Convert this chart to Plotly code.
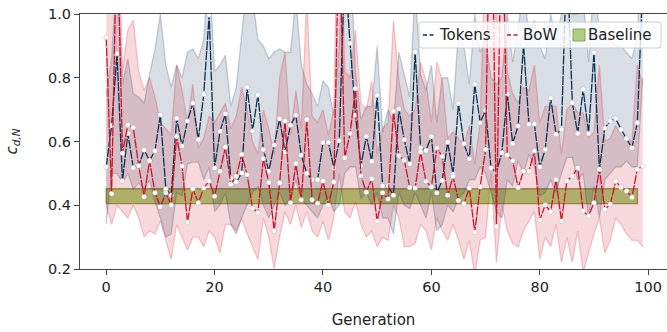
import plotly.graph_objects as go

generations = list(range(100))

tokens_mean = [
    0.52, 0.65, 0.876, 0.476, 0.625, 0.518, 0.524, 0.573, 0.54, 0.571,
    0.684, 0.451, 0.431, 0.673, 0.586, 0.664, 0.720, 0.606, 0.748, 0.997,
    0.517, 0.632, 0.687, 0.484, 0.473, 0.501, 0.770, 0.633, 0.746, 0.575,
    0.507, 0.589, 0.671, 0.567, 0.651, 0.682, 0.557, 0.50, 0.48, 0.48,
    0.597, 0.597, 0.518, 0.602, 1.15, 0.908, 0.682, 0.524, 0.616, 0.538,
    0.745, 0.461, 0.461, 0.431, 0.702, 0.606, 0.53, 0.881, 0.58, 0.572,
    0.616, 0.439, 0.478, 0.598, 0.497, 0.719, 0.593, 0.546, 0.780, 0.659,
    0.698, 0.517, 0.504, 0.565, 0.749, 0.594, 0.649, 0.903, 0.654, 0.655,
    0.520, 0.575, 0.737, 0.623, 0.638, 1.2, 0.721, 0.625, 0.764, 0.625,
    0.879, 0.513, 0.642, 0.664, 0.672, 0.638, 0.609, 0.580, 0.659, 1.1,
]
tokens_upper = [
    0.745, 0.86, 1.15, 0.78, 0.86, 0.75, 0.74, 0.72, 0.81, 0.89,
    1.0, 0.84, 0.77, 0.84, 0.80, 0.88, 0.89, 0.86, 0.92, 1.15,
    0.82, 0.84, 0.87, 0.71, 0.77, 0.92, 1.1, 1.05, 0.92, 0.90,
    0.86, 0.88, 0.89, 0.88, 0.88, 1.05, 0.84, 0.78, 0.75, 0.71,
    0.79, 0.77, 0.68, 0.90, 1.4, 1.2, 0.82, 0.67, 0.71, 0.71,
    0.90, 0.63, 0.70, 0.66, 0.88, 0.81, 0.74, 1.08, 0.81, 0.76,
    0.84, 0.66, 0.80, 0.80, 0.70, 0.95, 0.90, 0.78, 1.0, 0.88,
    0.92, 0.80, 0.78, 0.80, 1.0, 0.85, 0.95, 1.1, 0.93, 0.98,
    0.90, 0.86, 1.0, 0.92, 1.0, 1.3, 1.0, 1.0, 1.05, 0.85,
    1.1, 0.95, 0.92, 0.92, 0.90, 0.90, 0.88, 0.86, 0.93, 1.3,
]
tokens_lower = [
    0.342, 0.50, 0.50, 0.47, 0.50, 0.45, 0.47, 0.45, 0.48, 0.41,
    0.36, 0.30, 0.31, 0.44, 0.43, 0.53, 0.535, 0.535, 0.48, 0.52,
    0.38, 0.40, 0.44, 0.34, 0.31, 0.36, 0.40, 0.44, 0.46, 0.40,
    0.36, 0.40, 0.44, 0.40, 0.42, 0.48, 0.42, 0.40, 0.38, 0.36,
    0.40, 0.43, 0.38, 0.40, 0.50, 0.52, 0.52, 0.42, 0.44, 0.40,
    0.44, 0.36, 0.36, 0.31, 0.44, 0.40, 0.39, 0.44, 0.40, 0.36,
    0.44, 0.32, 0.34, 0.40, 0.38, 0.42, 0.44, 0.48, 0.48, 0.52,
    0.50, 0.44, 0.38, 0.36, 0.48, 0.46, 0.54, 0.50, 0.56, 0.52,
    0.43, 0.44, 0.48, 0.44, 0.50, 0.55, 0.55, 0.48, 0.50, 0.36,
    0.46, 0.36, 0.48, 0.50, 0.52, 0.52, 0.54, 0.52, 0.52, 0.80,
]

bow_mean = [
    0.927, 0.436, 1.3, 0.563, 0.652, 0.644, 0.524, 0.427, 0.54, 0.439,
    0.395, 0.439, 0.401, 0.616, 0.523, 0.347, 0.452, 0.408, 0.454, 0.476,
    0.428, 0.507, 0.583, 0.466, 0.49, 0.559, 0.496, 0.391, 0.377, 0.546,
    0.471, 0.32, 0.47, 0.664, 0.408, 0.531, 0.417, 0.669, 0.417, 0.406,
    0.476, 0.40, 0.473, 1.3, 0.549, 0.625, 0.766, 0.492, 0.441, 0.483,
    0.35, 0.439, 0.42, 0.695, 0.555, 0.541, 0.456, 0.454, 0.567, 0.475,
    0.457, 0.58, 0.553, 0.431, 0.49, 0.415, 0.405, 0.454, 0.315, 0.458,
    0.575, 1.6, 0.333, 1.4, 0.557, 0.54, 0.456, 0.507, 0.507, 0.57,
    0.354, 0.401, 0.38, 0.481, 0.35, 0.476, 0.492, 0.517, 0.382, 0.366,
    0.408, 0.513, 0.387, 0.403, 0.475, 0.456, 0.445, 0.425, 0.513, 0.523,
]
bow_upper = [
    1.2, 1.2, 1.5, 0.82, 0.95, 0.98, 0.82, 0.76, 0.80, 0.74,
    0.66, 0.64, 0.62, 0.84, 0.76, 0.66, 0.78, 0.58, 0.61, 0.68,
    0.66, 0.69, 0.72, 0.64, 0.68, 0.77, 0.70, 0.60, 0.56, 0.70,
    0.64, 0.56, 0.80, 0.88, 0.62, 0.76, 0.64, 1.05, 0.68, 0.66,
    0.70, 0.62, 0.70, 1.6, 0.82, 0.80, 0.95, 0.72, 0.70, 0.79,
    0.56, 0.64, 0.66, 0.98, 0.79, 0.70, 0.68, 0.70, 0.85, 0.79,
    0.66, 0.85, 0.79, 0.61, 0.63, 0.61, 0.59, 0.65, 0.53, 0.66,
    1.0, 1.8, 0.95, 1.6, 0.82, 0.75, 0.72, 0.77, 0.76, 0.84,
    0.66, 0.71, 0.71, 0.71, 0.56, 0.70, 0.72, 0.69, 0.69, 0.61,
    0.63, 0.84, 0.60, 0.61, 0.65, 0.62, 0.61, 0.60, 0.84, 0.78,
]
bow_lower = [
    0.40, 0.34, 0.40, 0.38, 0.36, 0.40, 0.36, 0.30, 0.32, 0.31,
    0.35, 0.29, 0.23, 0.34, 0.30, 0.26, 0.30, 0.30, 0.27, 0.32,
    0.30, 0.25, 0.34, 0.34, 0.32, 0.36, 0.31, 0.27, 0.23, 0.36,
    0.30, 0.20, 0.30, 0.38, 0.34, 0.40, 0.33, 0.38, 0.32, 0.30,
    0.35, 0.29, 0.36, 0.50, 0.38, 0.36, 0.41, 0.34, 0.30, 0.32,
    0.27, 0.30, 0.29, 0.40, 0.36, 0.27, 0.27, 0.28, 0.34, 0.32,
    0.26, 0.36, 0.32, 0.29, 0.34, 0.29, 0.23, 0.29, 0.18, 0.29,
    0.30, 0.50, 0.22, 0.40, 0.32, 0.28, 0.27, 0.32, 0.35, 0.38,
    0.23, 0.30, 0.27, 0.34, 0.22, 0.30, 0.22, 0.32, 0.19, 0.25,
    0.31, 0.36, 0.25, 0.29, 0.36, 0.34, 0.31, 0.29, 0.29, 0.27,
]

baseline_low = 0.405
baseline_high = 0.452
baseline_start = 0
baseline_end = 98

x_ticks = [0, 20, 40, 60, 80, 100]
y_ticks = [0.2, 0.4, 0.6, 0.8, 1.0]

legend_labels = ["Tokens", "BoW", "Baseline"]

NAVY = "#0d3152"
RED = "#d0112b"
NAVY_RGB = "13,49,82"
RED_RGB = "208,17,43"
FONT = "DejaVu Sans"

# figure geometry (pixels)
W, H = 667, 332
ML, MR, MT, MB = 80, 0, 14, 63
PW, PH = W - ML - MR, H - MT - MB


def px(x):
    return (x - ML) / PW


def py(y):
    return (H - MB - y) / PH


fig = go.Figure()

# baseline band (drawn beneath the spread bands)
bx = [baseline_start, baseline_end, baseline_end, baseline_start, baseline_start]
by = [baseline_low, baseline_low, baseline_high, baseline_high, baseline_low]
fig.add_trace(go.Scatter(x=bx, y=by, mode="lines", fill="toself",
                         fillcolor="rgba(150,192,85,0.8)",
                         line=dict(color="rgba(120,130,40,0.75)", width=1.4),
                         name=legend_labels[2], showlegend=False,
                         hoverinfo="skip"))


def add_band(lower, upper, rgb):
    edge = f"rgba({rgb},0.22)"
    fill = f"rgba({rgb},0.16)"
    fig.add_trace(go.Scatter(x=generations, y=lower, mode="lines",
                             line=dict(color=edge, width=1.3),
                             showlegend=False, hoverinfo="skip"))
    fig.add_trace(go.Scatter(x=generations, y=upper, mode="lines",
                             line=dict(color=edge, width=1.3),
                             fill="tonexty", fillcolor=fill,
                             showlegend=False, hoverinfo="skip"))


add_band(tokens_lower, tokens_upper, NAVY_RGB)
add_band(bow_lower, bow_upper, RED_RGB)

for name, vals, col in [(legend_labels[0], tokens_mean, NAVY),
                        (legend_labels[1], bow_mean, RED)]:
    fig.add_trace(go.Scatter(
        x=generations, y=vals, mode="lines+markers", name=name,
        showlegend=False,
        line=dict(color=col, width=1.3, dash="9px,1.2px"),
        marker=dict(symbol="circle", size=5, color="white",
                    line=dict(color="rgba(120,120,120,0.5)", width=0.5)),
    ))

# legend (matplotlib style box, drawn with shapes and text)
lx0, lx1, ly0, ly1, r = 419, 661, 22, 48, 3
box_path = (
    f"M {px(lx0 + r)} {py(ly0)} L {px(lx1 - r)} {py(ly0)} "
    f"Q {px(lx1)} {py(ly0)} {px(lx1)} {py(ly0 + r)} "
    f"L {px(lx1)} {py(ly1 - r)} Q {px(lx1)} {py(ly1)} {px(lx1 - r)} {py(ly1)} "
    f"L {px(lx0 + r)} {py(ly1)} Q {px(lx0)} {py(ly1)} {px(lx0)} {py(ly1 - r)} "
    f"L {px(lx0)} {py(ly0 + r)} Q {px(lx0)} {py(ly0)} {px(lx0 + r)} {py(ly0)} Z"
)
shapes = [dict(type="path", path=box_path, xref="paper", yref="paper",
               fillcolor="rgba(255,255,255,0.82)",
               line=dict(color="#cccccc", width=1), layer="above")]
cy = 35
for x0, x1, col in [(423, 436, NAVY), (507, 520, RED)]:
    shapes.append(dict(type="line", xref="paper", yref="paper",
                       x0=px(x0), x1=px(x1), y0=py(cy), y1=py(cy),
                       line=dict(color=col, width=1.3, dash="4px,2.5px"),
                       layer="above"))
shapes.append(dict(type="rect", xref="paper", yref="paper",
                   x0=px(573), x1=px(585), y0=py(29), y1=py(41),
                   fillcolor="rgba(160,198,110,0.85)",
                   line=dict(color="rgba(130,160,80,0.9)", width=1),
                   layer="above"))
annotations = []
for tx, label in zip([437, 521, 586], legend_labels):
    annotations.append(dict(text=label, x=px(tx), y=py(cy), xref="paper",
                            yref="paper", xanchor="left", yanchor="middle",
                            showarrow=False,
                            font=dict(family=FONT, size=15, color="#222")))

axis_common = dict(
    showline=True, linecolor="#444", linewidth=1,
    ticks="outside", ticklen=5, tickwidth=1, tickcolor="#444",
    showgrid=False, zeroline=False,
    tickfont=dict(family=FONT, size=14.5, color="#222"),
)

fig.update_layout(
    width=W, height=H,
    margin=dict(l=ML, r=MR, t=MT, b=MB),
    plot_bgcolor="white", paper_bgcolor="white",
    font=dict(family=FONT, size=15, color="#222"),
    xaxis=dict(range=[-4.83, 103.47], tickvals=x_ticks, mirror=True,
               title=dict(text="Generation", font=dict(family=FONT, size=15),
                          standoff=20),
               **axis_common),
    yaxis=dict(range=[0.2, 1.0], tickvals=y_ticks, tickformat=".1f",
               title=dict(text="<i>c</i><sub><i>d,N</i></sub>",
                          font=dict(family=FONT, size=15), standoff=26),
               **axis_common),
    shapes=shapes,
    annotations=annotations,
    showlegend=False,
)

fig.write_html("out.html")
